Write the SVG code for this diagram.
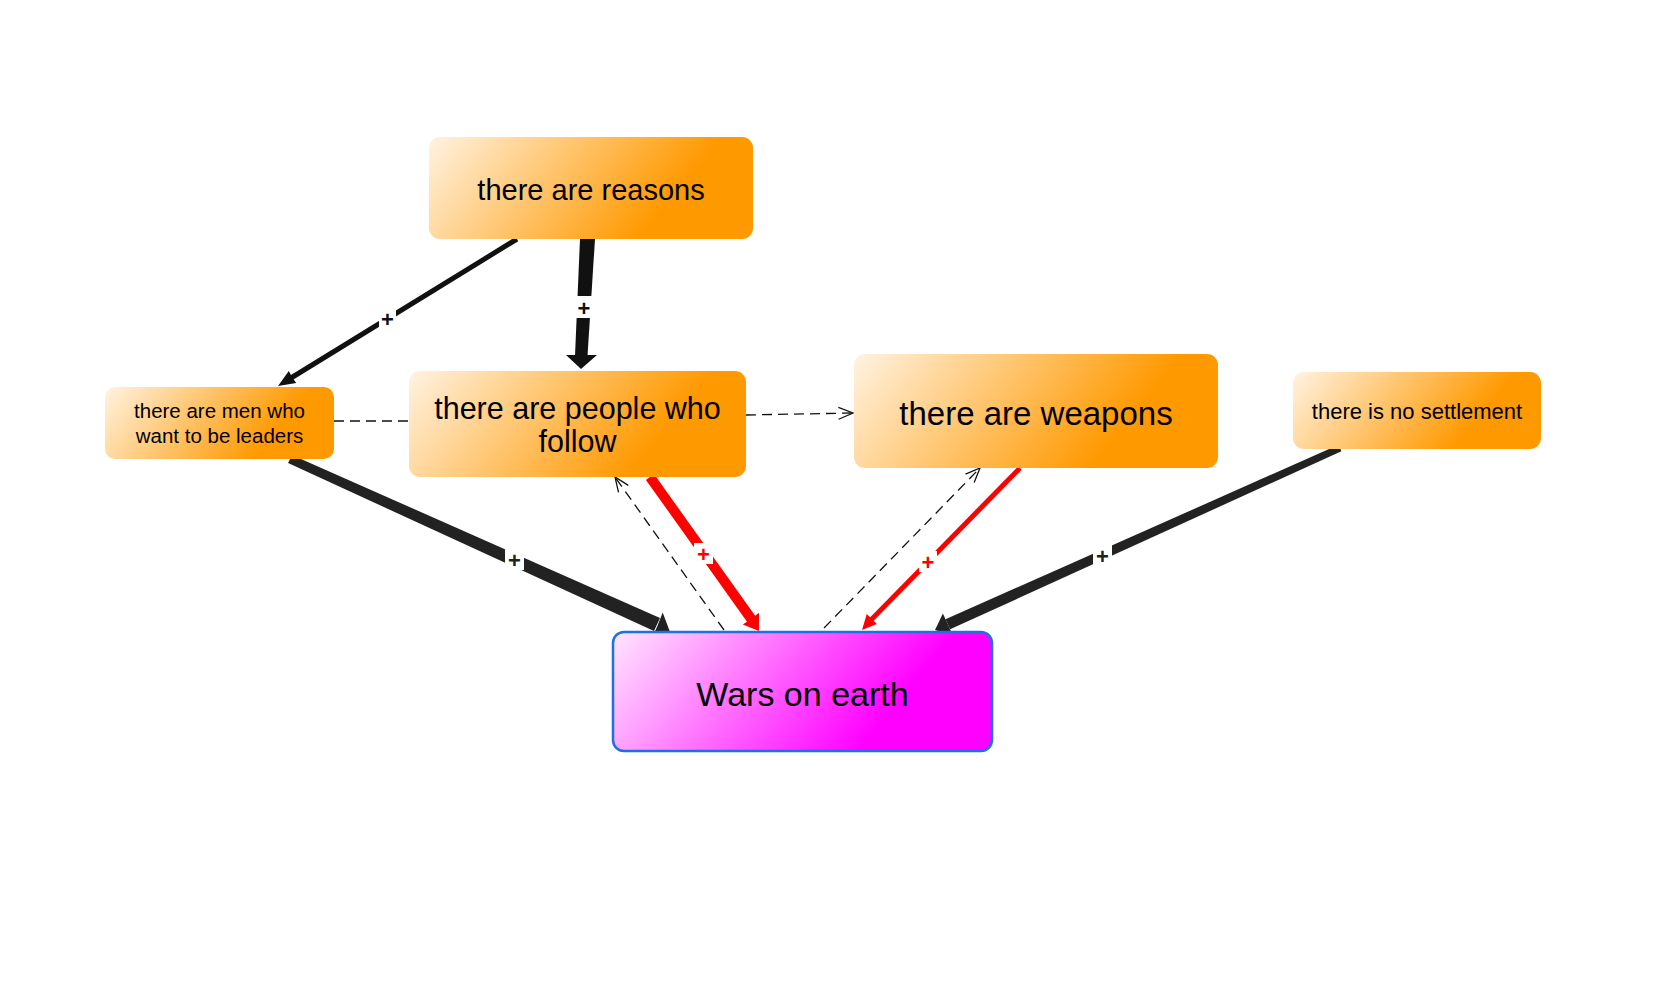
<svg xmlns="http://www.w3.org/2000/svg" width="1680" height="987" viewBox="0 0 1680 987">
<style>
  .txt { font-family: "Liberation Sans", Arial, sans-serif; fill: #000; text-anchor: middle; }
  .onode { fill: url(#gOrange); }
  .wnode { fill: url(#gMagenta); stroke: #1f6fe6; stroke-width: 2.5; }
  .blk { fill: #111; }
  .dk { fill: #222; }
  .red { fill: #ff0000; }
  .lineBlk { stroke: #111; fill: none; }
  .lineRed { stroke: #ff0000; fill: none; }
  .dash { stroke: #111; stroke-width: 1.3; stroke-dasharray: 10 6; fill: none; marker-end: url(#openHead); }
  .dashPlain { stroke: #111; stroke-width: 1.3; stroke-dasharray: 10 6; fill: none; }
  .lblbg { fill: #fff; }
  .lbl { font-family: "Liberation Sans", Arial, sans-serif; font-weight: bold; font-size: 22px; text-anchor: middle; }
</style>
<defs>
  <linearGradient id="gOrange" x1="0" y1="0" x2="0.85" y2="0.22">
    <stop offset="0" stop-color="#fff3e2"/>
    <stop offset="1" stop-color="#ff9900"/>
  </linearGradient>
  <linearGradient id="gMagenta" x1="0" y1="0" x2="0.85" y2="0.22">
    <stop offset="0" stop-color="#ffe6ff"/>
    <stop offset="1" stop-color="#ff00ff"/>
  </linearGradient>
  <marker id="openHead" markerUnits="userSpaceOnUse" markerWidth="17" markerHeight="14" viewBox="0 0 17 14" refX="15.5" refY="7" orient="auto">
    <path d="M1,1 L15.5,7 L1,13" fill="none" stroke="#111" stroke-width="1.3"/>
  </marker>
</defs>
<rect x="0" y="0" width="1680" height="987" fill="#fff"/>

<g id="connectors">
  <g id="c-reasons-men">
    <line class="lineBlk" x1="517" y1="239" x2="291" y2="378" stroke-width="5"/>
    <polygon class="blk" points="278,386 288.8,371.1 292,377 296.2,383.1"/>
    <rect class="lblbg" x="379" y="308" width="17" height="21"/>
    <text class="lbl" x="387.5" y="326.5" fill="#111">+</text>
  </g>
  <g id="c-reasons-people">
    <polygon class="blk" points="580,239 595,239 587.5,356 575,356"/>
    <polygon class="blk" points="566,355 597,355 581,369"/>
    <rect class="lblbg" x="574" y="296" width="20" height="22"/>
    <text class="lbl" x="584" y="315.5" fill="#111">+</text>
  </g>
  <g id="c-men-wars">
    <polygon class="dk" points="288.1,463.1 291.9,454.9 660,618 654,631"/>
    <polygon class="dk" points="670,632 651.9,638 657.3,626.2 662.7,612.4"/>
    <rect class="lblbg" x="505" y="549" width="19" height="21"/>
    <text class="lbl" x="514.5" y="567.5" fill="#222">+</text>
  </g>
  <g id="c-men-people">
    <line class="dashPlain" x1="334" y1="421" x2="409" y2="421"/>
  </g>
  <g id="c-people-weapons">
    <line class="dash" x1="746" y1="415" x2="853" y2="413"/>
  </g>
  <g id="c-people-wars">
    <line class="lineRed" x1="650" y1="477" x2="752" y2="620" stroke-width="10"/>
    <polygon class="red" points="759,631 742.8,624.4 751,619 759,612.8"/>
    <rect class="lblbg" x="694" y="543" width="19" height="21"/>
    <text class="lbl" x="703.5" y="561.5" fill="#ff0000">+</text>
  </g>
  <g id="c-wars-people">
    <line class="dash" x1="724" y1="630" x2="615" y2="477"/>
  </g>
  <g id="c-wars-weapons">
    <line class="dash" x1="824" y1="628" x2="980" y2="468"/>
  </g>
  <g id="c-weapons-wars">
    <line class="lineRed" x1="1020" y1="468" x2="871" y2="620" stroke-width="5"/>
    <polygon class="red" points="862,630 866.8,614.1 871.8,619 876.8,623.9"/>
    <rect class="lblbg" x="919" y="551" width="18" height="21"/>
    <text class="lbl" x="928" y="569.5" fill="#ff0000">+</text>
  </g>
  <g id="c-settlement-wars">
    <polygon class="dk" points="1338.6,444.8 1341.4,451.2 950.1,629.3 945.5,619.3"/>
    <polygon class="dk" points="935,630 942.9,613.4 947.8,624.3 952.7,635.2"/>
    <rect class="lblbg" x="1093" y="545" width="19" height="21"/>
    <text class="lbl" x="1102.5" y="563.5" fill="#222">+</text>
  </g>
</g>

<g id="node-reasons">
  <rect class="onode" x="429" y="137" width="324" height="102" rx="11"/>
  <text class="txt" x="591" y="200" font-size="29">there are reasons</text>
</g>
<g id="node-men">
  <rect class="onode" x="105" y="387" width="229" height="72" rx="10"/>
  <text class="txt" x="219.5" y="418" font-size="20.5">there are men who</text>
  <text class="txt" x="219.5" y="443" font-size="20.5">want to be leaders</text>
</g>
<g id="node-people">
  <rect class="onode" x="409" y="371" width="337" height="106" rx="11"/>
  <text class="txt" x="577.5" y="419" font-size="30.5">there are people who</text>
  <text class="txt" x="577.5" y="452" font-size="30.5">follow</text>
</g>
<g id="node-weapons">
  <rect class="onode" x="854" y="354" width="364" height="114" rx="11"/>
  <text class="txt" x="1036" y="425" font-size="33">there are weapons</text>
</g>
<g id="node-settlement">
  <rect class="onode" x="1293" y="372" width="248" height="77" rx="11"/>
  <text class="txt" x="1417" y="419" font-size="22">there is no settlement</text>
</g>
<g id="node-wars">
  <rect class="wnode" x="613" y="632" width="379" height="119" rx="11"/>
  <text class="txt" x="802.5" y="706" font-size="34">Wars on earth</text>
</g>
</svg>
